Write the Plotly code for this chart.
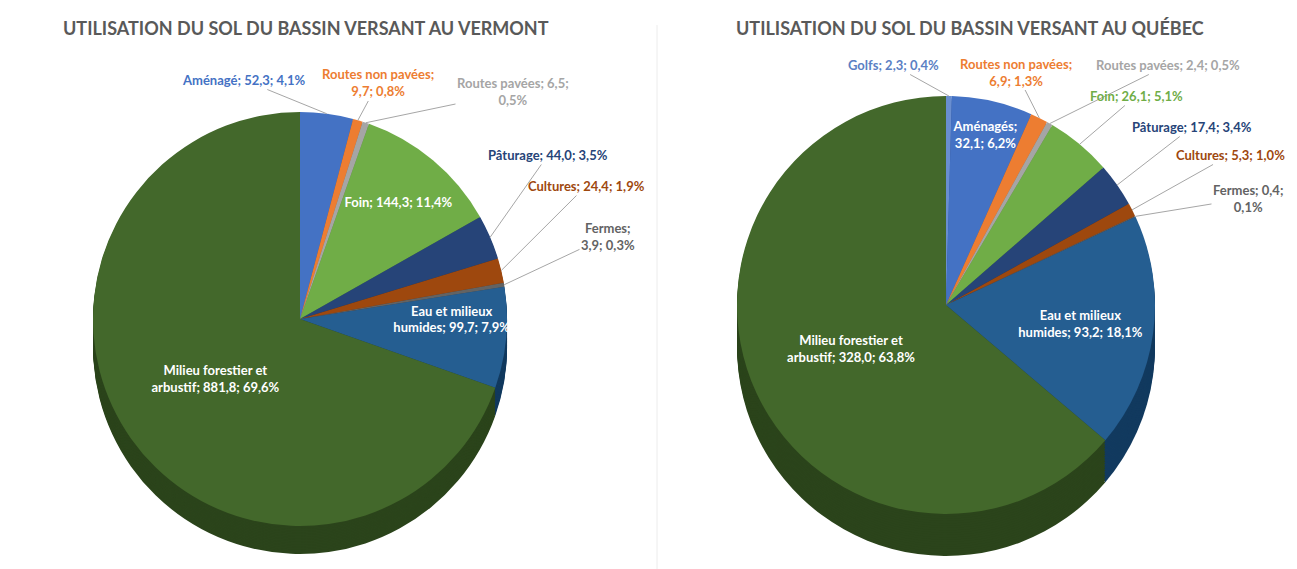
import math
import plotly.graph_objects as go

# ---------------- data ----------------
vt_labels = ["Aménagé", "Routes non pavées", "Routes pavées", "Foin", "Pâturage",
             "Cultures", "Fermes", "Eau et milieux humides", "Milieu forestier et arbustif"]
vt_values = [52.3, 9.7, 6.5, 144.3, 44.0, 24.4, 3.9, 99.7, 881.8]

qc_labels = ["Golfs", "Aménagés", "Routes non pavées", "Routes pavées", "Foin", "Pâturage",
             "Cultures", "Fermes", "Eau et milieux humides", "Milieu forestier et arbustif"]
qc_values = [2.3, 32.1, 6.9, 2.4, 26.1, 17.4, 5.3, 0.4, 93.2, 328.0]

vt_title = "UTILISATION DU SOL DU BASSIN VERSANT AU VERMONT"
qc_title = "UTILISATION DU SOL DU BASSIN VERSANT AU QUÉBEC"

# ---------------- styles ----------------
# colour (top), colour (side), text colour
PAL = {
    "Golfs": ("#698ED0", "#4a6aa8", "#5B7FC4"),
    "Aménagé": ("#4472C4", "#2f5090", "#4472C4"),
    "Aménagés": ("#4472C4", "#2f5090", "#FFFFFF"),
    "Routes non pavées": ("#ED7D31", "#b05a20", "#ED7D31"),
    "Routes pavées": ("#A5A5A5", "#7a7a7a", "#A5A5A5"),
    "Foin": ("#70AD47", "#4f7e30", "#70AD47"),
    "Pâturage": ("#264478", "#172c52", "#264478"),
    "Cultures": ("#9E480E", "#6e3008", "#9E480E"),
    "Fermes": ("#636363", "#444444", "#636363"),
    "Eau et milieux humides": ("#255E91", "#123a5f", "#FFFFFF"),
    "Milieu forestier et arbustif": ("#43682B", "#2b441b", "#FFFFFF"),
}
FONT = "Lato, Roboto, sans-serif"
W, H = 1297, 569
LBL = 13

VT_INSIDE = {
    "Foin": "%{label}; %{value:.1f}; %{percent:.1%}",
    "Eau et milieux humides": "Eau et milieux<br>humides; %{value:.1f}; %{percent:.1%}",
    "Milieu forestier et arbustif": "Milieu forestier et<br>arbustif; %{value:.1f}; %{percent:.1%}",
}
QC_INSIDE = {
    "Aménagés": "%{label};<br>%{value:.1f}; %{percent:.1%}",
    "Eau et milieux humides": "Eau et milieux<br>humides; %{value:.1f}; %{percent:.1%}",
    "Milieu forestier et arbustif": "Milieu forestier et<br>arbustif; %{value:.1f}; %{percent:.1%}",
}
# label: (text centre x, text centre y, index of last part before a line break)
VT_OUT = {
    "Aménagé": (236, 72, None),
    "Routes non pavées": (370, 75, 0),
    "Routes pavées": (505, 84, 1),
    "Pâturage": (540, 147, None),
    "Cultures": (578, 178, None),
    "Fermes": (600, 228, 0),
}
QC_OUT = {
    "Golfs": (885, 57, None),
    "Routes non pavées": (1008, 64, 0),
    "Routes pavées": (1160, 57, None),
    "Foin": (1128, 88, None),
    "Pâturage": (1184, 119, None),
    "Cultures": (1222, 147, None),
    "Fermes": (1240, 190, 1),
}


def fmt(v):
    return f"{v:.1f}".replace(".", ",")


def dom(cx, top, d, shift=0):
    return dict(x=[(cx - d / 2) / W, (cx + d / 2) / W],
                y=[1 - (top + d + shift) / H, 1 - (top + shift) / H])


def add_pie(fig, labels, values, cx, top, d, depth, name, inside, outside):
    n = 18
    for k in range(n, 0, -1):
        fig.add_trace(go.Pie(
            labels=labels, values=values, sort=False, direction="clockwise", rotation=0,
            domain=dom(cx, top, d, depth * k / n),
            marker=dict(colors=[PAL[l][1] for l in labels], line=dict(width=0)),
            textinfo="none", hoverinfo="skip", showlegend=False, name=name + " (côté)"))
    fig.add_trace(go.Pie(
        labels=labels, values=values, sort=False, direction="clockwise", rotation=0,
        domain=dom(cx, top, d),
        marker=dict(colors=[PAL[l][0] for l in labels], line=dict(width=0)),
        texttemplate=[inside.get(l, "") for l in labels],
        textposition=["inside" if l in inside else "none" for l in labels],
        textfont=dict(family=FONT, size=13, color="#FFFFFF", weight="bold"),
        insidetextorientation="horizontal",
        showlegend=False, name=name))
    # outside labels with leader lines
    total = sum(values)
    cy = top + d / 2
    r = d / 2
    cum = 0.0
    for l, v in zip(labels, values):
        mid = (cum + v / 2) / total * 2 * math.pi
        cum += v
        if l not in outside:
            continue
        tx, ty, br = outside[l]
        parts = [l, fmt(v), fmt(v / total * 100) + "%"]
        if br is None:
            txt = "; ".join(parts)
        else:
            txt = "; ".join(parts[:br + 1]) + ";<br>" + "; ".join(parts[br + 1:])
        ex = cx + r * math.sin(mid)
        ey = cy - r * math.cos(mid)
        fig.add_annotation(
            x=ex / W, y=1 - ey / H, xref="paper", yref="paper",
            ax=tx - ex, ay=ty - ey, axref="pixel", ayref="pixel",
            text=txt, showarrow=True, arrowhead=0, arrowwidth=1, arrowcolor="#A6A6A6",
            font=dict(family=FONT, size=LBL, color=PAL[l][2], weight="bold"),
            align="center", standoff=0)


fig = go.Figure()
add_pie(fig, vt_labels, vt_values, 292, 104, 414, 28, "Vermont", VT_INSIDE, VT_OUT)
add_pie(fig, qc_labels, qc_values, 938, 88, 418, 42, "Québec", QC_INSIDE, QC_OUT)

fig.add_annotation(text="<b>" + vt_title + "</b>", x=298 / W, y=1 - 20 / H, xref="paper", yref="paper",
                   xanchor="center", yanchor="middle", showarrow=False,
                   font=dict(family=FONT, size=18, color="#595959"))
fig.add_annotation(text="<b>" + qc_title + "</b>", x=962 / W, y=1 - 20 / H, xref="paper", yref="paper",
                   xanchor="center", yanchor="middle", showarrow=False,
                   font=dict(family=FONT, size=18, color="#595959"))
fig.add_shape(type="line", x0=649 / W, x1=649 / W, y0=0.0, y1=0.97, xref="paper", yref="paper",
              line=dict(color="#ececec", width=1))

fig.update_layout(width=W, height=H, margin=dict(l=0, r=0, t=0, b=0),
                  paper_bgcolor="white", plot_bgcolor="white", separators=", ",
                  uniformtext=dict(minsize=13, mode="show"),
                  font=dict(family=FONT))
fig.write_html("out.html")
